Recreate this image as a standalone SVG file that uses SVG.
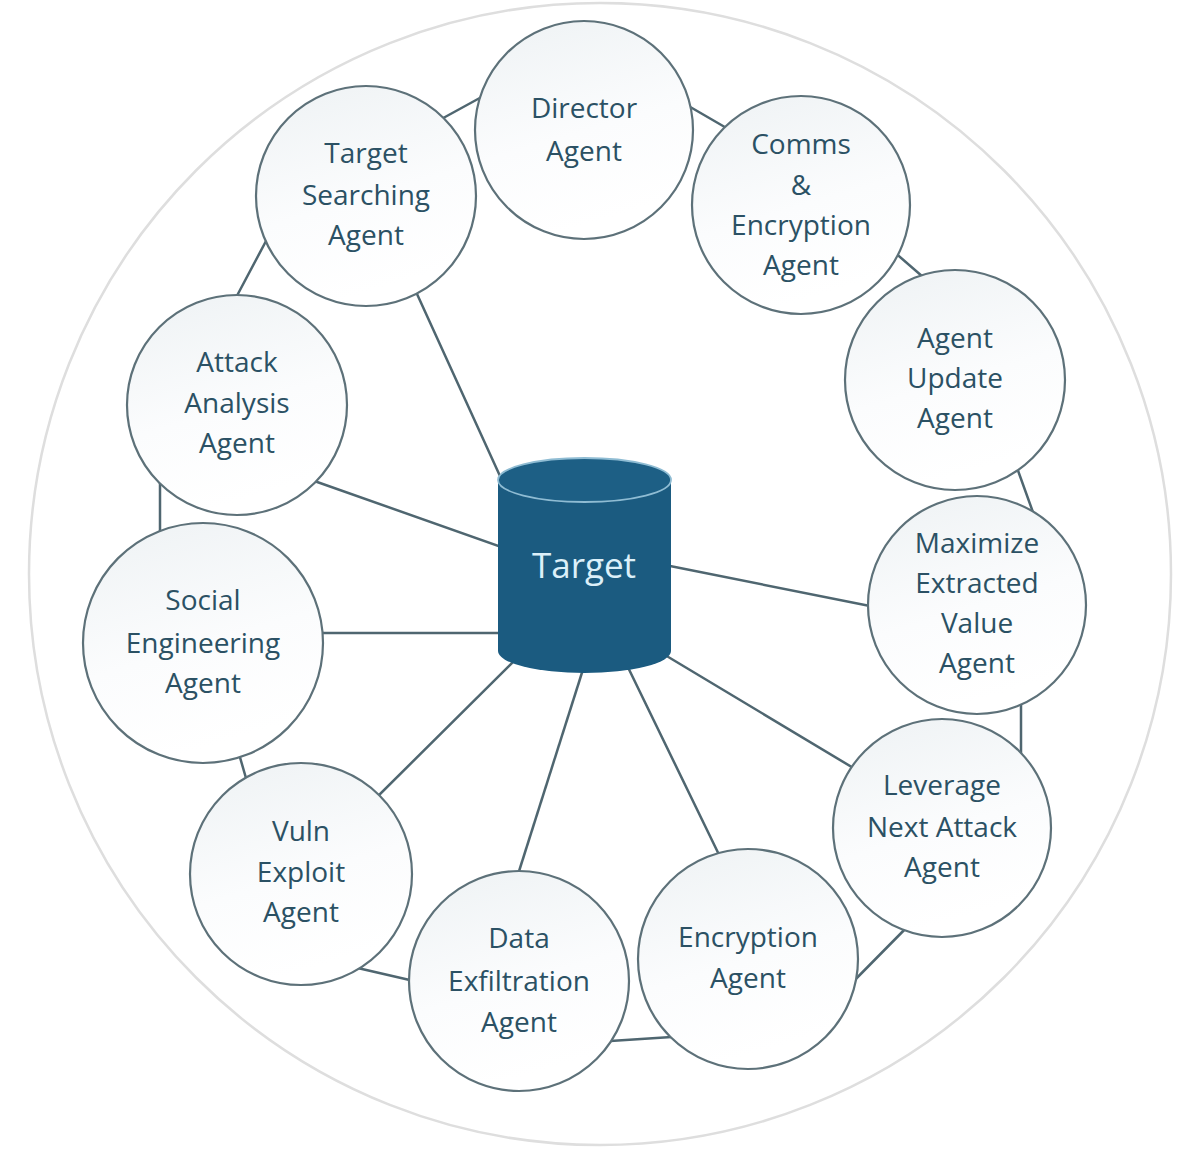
<svg xmlns="http://www.w3.org/2000/svg" width="1200" height="1164" viewBox="0 0 1200 1164">
<defs>
<linearGradient id="nodeFill" x1="0" y1="0" x2="0.3" y2="1">
<stop offset="0" stop-color="#eef2f4"/>
<stop offset="0.6" stop-color="#fbfcfd"/>
<stop offset="1" stop-color="#ffffff"/>
</linearGradient>
</defs>
<style>
.node circle{fill:url(#nodeFill);stroke:#5d7179;stroke-width:2.2}
.node text{font-family:"Open Sans","Noto Sans","Liberation Sans",sans-serif;font-size:28px;fill:#2b5164;text-anchor:middle}
.conn line{stroke:#4f6670;stroke-width:2.5;stroke-linecap:round}
</style>
<rect width="1200" height="1164" fill="#ffffff"/>
<circle id="outer" cx="600" cy="574" r="571" fill="none" stroke="#dedede" stroke-width="2.5"/>
<g id="connectors" class="conn">
<line x1="425" y1="128" x2="498" y2="88"/>
<line x1="673" y1="97" x2="742" y2="137"/>
<line x1="885" y1="244" x2="938" y2="290"/>
<line x1="1011" y1="451" x2="1039" y2="529"/>
<line x1="1021" y1="690" x2="1021" y2="765"/>
<line x1="916" y1="918" x2="841" y2="994"/>
<line x1="595" y1="1042" x2="687" y2="1036"/>
<line x1="336" y1="963" x2="427" y2="984"/>
<line x1="235" y1="740" x2="250" y2="792"/>
<line x1="160" y1="475" x2="160" y2="540"/>
<line x1="274" y1="226" x2="231" y2="307"/>
<line x1="412" y1="283" x2="505" y2="487"/>
<line x1="303" y1="477" x2="510" y2="550"/>
<line x1="310" y1="633" x2="510" y2="633"/>
<line x1="660" y1="564" x2="885" y2="609"/>
<line x1="655" y1="649" x2="865" y2="775"/>
<line x1="622" y1="655" x2="725" y2="867"/>
<line x1="586" y1="660" x2="514" y2="887"/>
<line x1="518" y1="657" x2="368" y2="806"/>
</g>
<g id="target">
<path d="M498,480 L498,651 A86.5,22 0 0 0 671,651 L671,480 A86.5,22 0 0 0 498,480 Z" fill="#1b5b80"/>
<ellipse cx="584.5" cy="480" rx="86.5" ry="22" fill="#1d5f85" stroke="#8fbcd3" stroke-width="1.8"/>
<text x="584" y="578" font-family="'Open Sans','Noto Sans','Liberation Sans',sans-serif" font-size="35" fill="#dcf0f9" text-anchor="middle">Target</text>
</g>
<g id="director" class="node">
<circle cx="584" cy="130" r="109"/>
<text x="584" y="118">Director</text>
<text x="584" y="161">Agent</text>
</g>
<g id="comms" class="node">
<circle cx="801" cy="205" r="109"/>
<text x="801" y="154">Comms</text>
<text x="801" y="195">&amp;</text>
<text x="801" y="235">Encryption</text>
<text x="801" y="275">Agent</text>
</g>
<g id="agent-update" class="node">
<circle cx="955" cy="380" r="110"/>
<text x="955" y="348">Agent</text>
<text x="955" y="388">Update</text>
<text x="955" y="428">Agent</text>
</g>
<g id="maximize" class="node">
<circle cx="977" cy="605" r="109"/>
<text x="977" y="553">Maximize</text>
<text x="977" y="593">Extracted</text>
<text x="977" y="633">Value</text>
<text x="977" y="673">Agent</text>
</g>
<g id="leverage" class="node">
<circle cx="942" cy="828" r="109"/>
<text x="942" y="795">Leverage</text>
<text x="942" y="837">Next Attack</text>
<text x="942" y="877">Agent</text>
</g>
<g id="encryption" class="node">
<circle cx="748" cy="959" r="110"/>
<text x="748" y="947">Encryption</text>
<text x="748" y="988">Agent</text>
</g>
<g id="data-exfiltration" class="node">
<circle cx="519" cy="981" r="110"/>
<text x="519" y="948">Data</text>
<text x="519" y="991">Exfiltration</text>
<text x="519" y="1032">Agent</text>
</g>
<g id="vuln-exploit" class="node">
<circle cx="301" cy="874" r="111"/>
<text x="301" y="841">Vuln</text>
<text x="301" y="882">Exploit</text>
<text x="301" y="922">Agent</text>
</g>
<g id="social-engineering" class="node">
<circle cx="203" cy="643" r="120"/>
<text x="203" y="610">Social</text>
<text x="203" y="653">Engineering</text>
<text x="203" y="693">Agent</text>
</g>
<g id="attack-analysis" class="node">
<circle cx="237" cy="405" r="110"/>
<text x="237" y="372">Attack</text>
<text x="237" y="413">Analysis</text>
<text x="237" y="453">Agent</text>
</g>
<g id="target-searching" class="node">
<circle cx="366" cy="196" r="110"/>
<text x="366" y="163">Target</text>
<text x="366" y="205">Searching</text>
<text x="366" y="245">Agent</text>
</g>
</svg>
